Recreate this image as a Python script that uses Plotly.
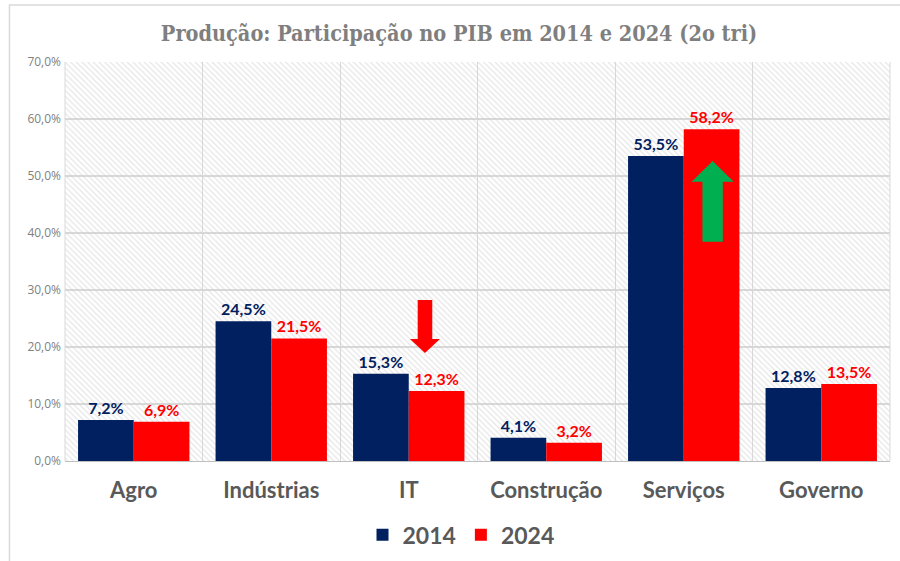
import plotly.graph_objects as go

categories = ["Agro", "Indústrias", "IT", "Construção", "Serviços", "Governo"]
values_2014 = [7.2, 24.5, 15.3, 4.1, 53.5, 12.8]
values_2024 = [6.9, 21.5, 12.3, 3.2, 58.2, 13.5]
series_names = ["2014", "2024"]
y_ticks = [0, 10, 20, 30, 40, 50, 60, 70]

NAVY = "#002060"
RED = "#FF0000"
GREEN = "#00B050"
GRAY_TXT = "#595959"
GRID = "#d9d9d9"
FONT = "Lato"
BW = 0.405

xs = list(range(len(categories)))

def fmt(v):
    return f"{v:.1f}".replace(".", ",") + "%"

fig = go.Figure()

# hatched plot background
fig.add_trace(go.Bar(
    x=xs, y=[y_ticks[-1]] * len(xs), width=1, offset=-0.5,
    marker=dict(color="rgba(0,0,0,0)", line=dict(width=0),
                pattern=dict(shape="\\", fgcolor="#cccccc", bgcolor="rgba(0,0,0,0)",
                             size=4, solidity=0.3)),
    showlegend=False, hoverinfo="skip"))

fig.add_trace(go.Bar(
    x=xs, y=values_2014, width=BW, offset=-BW, name=series_names[0],
    marker=dict(color=NAVY, line=dict(width=0)),
    text=[fmt(v) for v in values_2014], textposition="outside",
    outsidetextfont=dict(family=FONT, size=16, color=NAVY, weight="bold"),
    cliponaxis=False))
fig.add_trace(go.Bar(
    x=xs, y=values_2024, width=BW, offset=0, name=series_names[1],
    marker=dict(color=RED, line=dict(width=0)),
    text=[fmt(v) for v in values_2024], textposition="outside",
    outsidetextfont=dict(family=FONT, size=16, color=RED, weight="bold"),
    cliponaxis=False))

# arrows (annotations)
def arrow_path(xc, shaft_half, head_half, y_tail, y_headbase, y_tip):
    return (f"M {xc-shaft_half},{y_tail} L {xc+shaft_half},{y_tail} "
            f"L {xc+shaft_half},{y_headbase} L {xc+head_half},{y_headbase} "
            f"L {xc},{y_tip} L {xc-head_half},{y_headbase} "
            f"L {xc-shaft_half},{y_headbase} Z")

fig.add_shape(type="path", xref="x", yref="y",
              path=arrow_path(2.118, 0.053, 0.109, 28.25, 21.4, 18.95),
              fillcolor=RED, line=dict(width=0))
fig.add_shape(type="path", xref="x", yref="y",
              path=arrow_path(4.21, 0.074, 0.153, 38.47, 49.0, 52.63),
              fillcolor=GREEN, line=dict(width=0))

# outer border (only left and top visible in the frame)
fig.add_shape(type="rect", xref="paper", yref="paper",
              x0=-0.0673, x1=1.05, y0=-0.35, y1=1.1429,
              line=dict(color="#d9d9d9", width=1.5), fillcolor="rgba(0,0,0,0)")

fig.update_layout(
    width=900, height=561,
    margin=dict(l=65, r=10, t=62, b=100, autoexpand=False),
    paper_bgcolor="white", plot_bgcolor="white",
    barmode="overlay",
    separators=",.",
    title=dict(text="<b>Produção: Participação no PIB em 2014 e 2024 (2o tri)</b>",
               x=0.51, xanchor="center", y=0.94, yanchor="middle",
               font=dict(family="DejaVu Serif Condensed", size=21.5, color="#7f7f7f")),
    legend=dict(orientation="h", x=0.48, xanchor="center", y=-0.185, yanchor="middle",
                font=dict(family=FONT, size=23, color=GRAY_TXT, weight="bold"),
                bgcolor="rgba(0,0,0,0)", itemsizing="constant"),
    xaxis=dict(range=[-0.5, len(categories) - 0.5], tickmode="array",
               tickvals=xs, ticktext=categories, showgrid=False,
               tickfont=dict(family=FONT, size=22, color=GRAY_TXT, weight="bold"),
               showline=True, linecolor="#bfbfbf", linewidth=1,
               ticks="", zeroline=False, ticklabelstandoff=10, automargin=False,
               minor=dict(tick0=0.5, dtick=1, showgrid=True, gridcolor=GRID, gridwidth=1)),
    yaxis=dict(range=[0, y_ticks[-1]], tickmode="array", tickvals=y_ticks,
               ticktext=[fmt(v) for v in y_ticks], automargin=False,
               showgrid=True, gridcolor=GRID, gridwidth=1.5, zeroline=False,
               tickfont=dict(family="Open Sans", size=12, color="#7f7f7f"),
               ticks="", ticklen=0, ticklabelstandoff=3),
    font=dict(family=FONT),
)

fig.add_shape(type="line", xref="paper", yref="paper", x0=-0.0, x1=0.0, y0=0, y1=1,
              line=dict(color=GRID, width=1))
fig.add_shape(type="line", xref="paper", yref="paper", x0=1.0, x1=1.0, y0=0, y1=1,
              line=dict(color=GRID, width=1))

fig.write_html("out.html", config={"displayModeBar": False},
               post_script="document.body.style.margin='0px';")
